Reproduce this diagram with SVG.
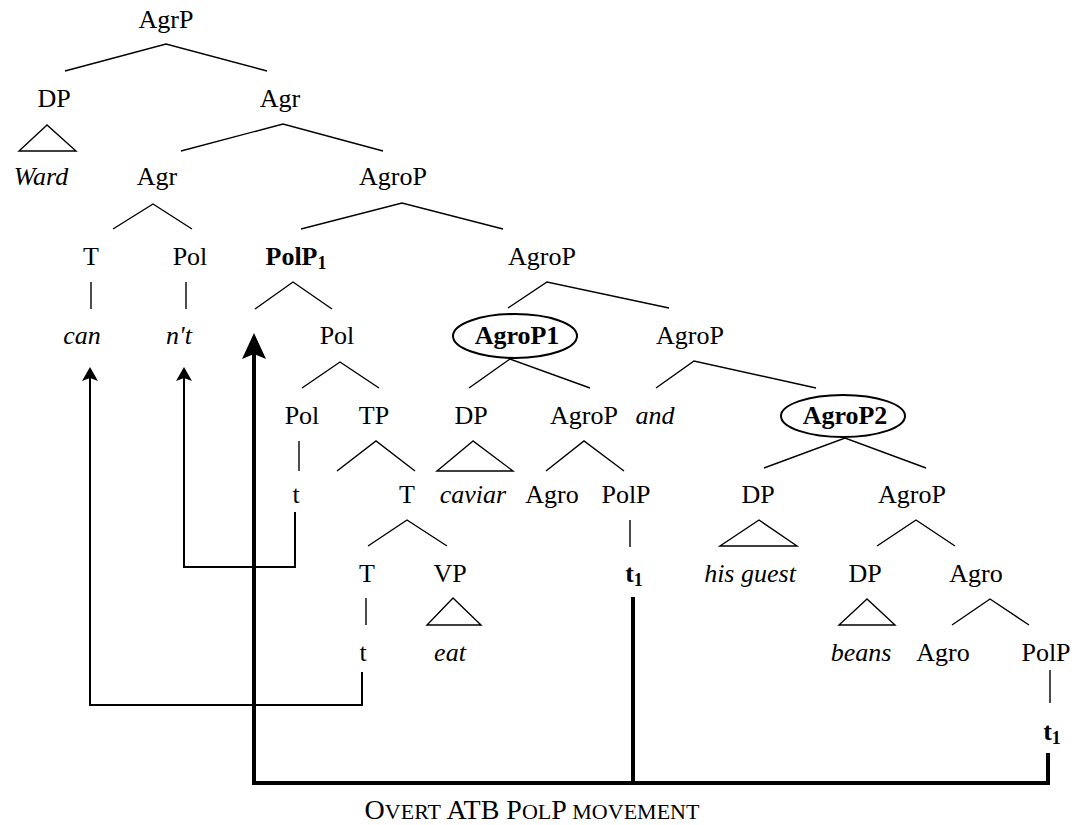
<svg xmlns="http://www.w3.org/2000/svg" width="1080" height="825" viewBox="0 0 1080 825" font-family="'Liberation Serif', 'Times New Roman', serif">
<defs>
<style>
text{font-family:"Liberation Serif","Times New Roman",serif;font-size:26px;fill:#000;text-anchor:middle}
.i{font-style:italic}
.b{font-weight:bold}
.sub{font-size:18px}
.br{fill:none;stroke:#000;stroke-width:1.4}
.tri{fill:none;stroke:#000;stroke-width:1.4;stroke-linejoin:miter}
.mv{fill:none;stroke:#000;stroke-width:2}
.mvb{fill:none;stroke:#000;stroke-width:4}
.ell{fill:none;stroke:#000;stroke-width:2}
.sc{font-size:22px}
</style>
<marker id="ah" viewBox="0 0 14 16" refX="6" refY="8" markerWidth="14" markerHeight="16" markerUnits="userSpaceOnUse" orient="auto"><path d="M0,0 L14,8 L0,16 L3,8 Z" fill="#000"/></marker>
<marker id="ahb" viewBox="0 0 26 24" refX="12" refY="12" markerWidth="26" markerHeight="24" markerUnits="userSpaceOnUse" orient="auto"><path d="M0,0 L26,12 L0,24 L5,12 Z" fill="#000"/></marker>
</defs>
<rect width="1080" height="825" fill="#fff"/>

<g id="n-agrp"><text x="166" y="28">AgrP</text></g>
<g id="n-dp1"><text x="54" y="107">DP</text></g>
<g id="n-agr1"><text x="280" y="107">Agr</text></g>
<g id="n-ward"><text class="i" x="41" y="185">Ward</text></g>
<g id="n-agr2"><text x="157" y="185">Agr</text></g>
<g id="n-agrop2"><text x="393" y="185">AgroP</text></g>
<g id="n-t3"><text x="91" y="265">T</text></g>
<g id="n-pol3"><text x="190" y="265">Pol</text></g>
<g id="n-polp1"><text class="b" x="296" y="265">PolP<tspan class="sub" dy="4">1</tspan></text></g>
<g id="n-agrop3"><text x="542" y="265">AgroP</text></g>
<g id="n-can"><text class="i" x="82" y="344">can</text></g>
<g id="n-nt"><text class="i" x="179" y="344">n't</text></g>
<g id="n-pol4"><text x="337" y="344">Pol</text></g>
<g id="n-agrop1"><ellipse class="ell" cx="515" cy="336" rx="62" ry="22"/><text class="b" x="517" y="344">AgroP1</text></g>
<g id="n-agrop4"><text x="690" y="344">AgroP</text></g>
<g id="n-pol5"><text x="302" y="424">Pol</text></g>
<g id="n-tp"><text x="374" y="424">TP</text></g>
<g id="n-dp5"><text x="471" y="424">DP</text></g>
<g id="n-agrop5"><text x="584" y="424">AgroP</text></g>
<g id="n-and"><text class="i" x="655" y="424">and</text></g>
<g id="n-agrop2b"><ellipse class="ell" cx="843" cy="416" rx="62" ry="21"/><text class="b" x="845" y="424">AgroP2</text></g>
<g id="n-t6"><text x="296" y="503">t</text></g>
<g id="n-tt6"><text x="407" y="503">T</text></g>
<g id="n-caviar"><text class="i" x="473" y="503">caviar</text></g>
<g id="n-agro6"><text x="552" y="503">Agro</text></g>
<g id="n-polp6"><text x="626" y="503">PolP</text></g>
<g id="n-dp6"><text x="758" y="503">DP</text></g>
<g id="n-agrop6"><text x="912" y="503">AgroP</text></g>
<g id="n-t7"><text x="367" y="582">T</text></g>
<g id="n-vp"><text x="450" y="582">VP</text></g>
<g id="n-t1a"><text class="b" x="634" y="582">t<tspan class="sub" dy="4">1</tspan></text></g>
<g id="n-hisguest"><text class="i" x="750" y="582">his guest</text></g>
<g id="n-dp7"><text x="865" y="582">DP</text></g>
<g id="n-agro7"><text x="976" y="582">Agro</text></g>
<g id="n-t8"><text x="363" y="661">t</text></g>
<g id="n-eat"><text class="i" x="450" y="661">eat</text></g>
<g id="n-beans"><text class="i" x="861" y="661">beans</text></g>
<g id="n-agro8"><text x="943" y="661">Agro</text></g>
<g id="n-polp8"><text x="1046" y="661">PolP</text></g>
<g id="n-t1b"><text class="b" x="1052" y="740">t<tspan class="sub" dy="4">1</tspan></text></g>

<g id="connectors">
<path class="br" d="M65,71 L166,44 L267,71"/>
<path class="br" d="M181,151 L283,124 L383,151"/>
<path class="tri" d="M47,125 L19,151 L76,151 Z"/>
<path class="br" d="M113,229 L153,204 L192,229"/>
<path class="br" d="M301,229 L402,203 L503,229"/>
<path class="br" d="M91,282 V309"/>
<path class="br" d="M186,282 V309"/>
<path class="br" d="M255,309 L293,282 L332,309"/>
<path class="br" d="M508,308 L547,282 L669,308"/>
<path class="br" d="M302,388 L340,362 L379,388"/>
<path class="br" d="M469,388 L510,359 L590,388"/>
<path class="br" d="M656,388 L694,361 L816,388"/>
<path class="br" d="M299,441 V471"/>
<path class="br" d="M337,471 L376,441 L415,471"/>
<path class="tri" d="M473,441 L437,471 L513,471 Z"/>
<path class="br" d="M546,471 L584,441 L624,471"/>
<path class="br" d="M764,468 L845,438 L926,468"/>
<path class="br" d="M368,546 L407,520 L447,546"/>
<path class="br" d="M630,520 V547"/>
<path class="tri" d="M759,520 L720,546 L797,546 Z"/>
<path class="br" d="M877,546 L916,520 L955,546"/>
<path class="br" d="M366,598 V625"/>
<path class="tri" d="M453,598 L427,625 L481,625 Z"/>
<path class="tri" d="M867,599 L839,625 L895,625 Z"/>
<path class="br" d="M952,625 L990,599 L1029,625"/>
<path class="br" d="M1050,670 V703"/>

<path class="mv" d="M362,672 V705 H90 V375" marker-end="url(#ah)"/>
<path class="mv" d="M295,512 V567 H184 V375" marker-end="url(#ah)"/>
<path class="mvb" d="M1048,753 V783 H254 V347" marker-end="url(#ahb)"/>
<path class="mvb" d="M633,597 V783"/>
</g>

<g id="label"><text x="532" y="819" style="font-size:28px">O<tspan class="sc">VERT</tspan> ATB P<tspan class="sc">OL</tspan>P<tspan class="sc"> MOVEMENT</tspan></text></g>
</svg>
